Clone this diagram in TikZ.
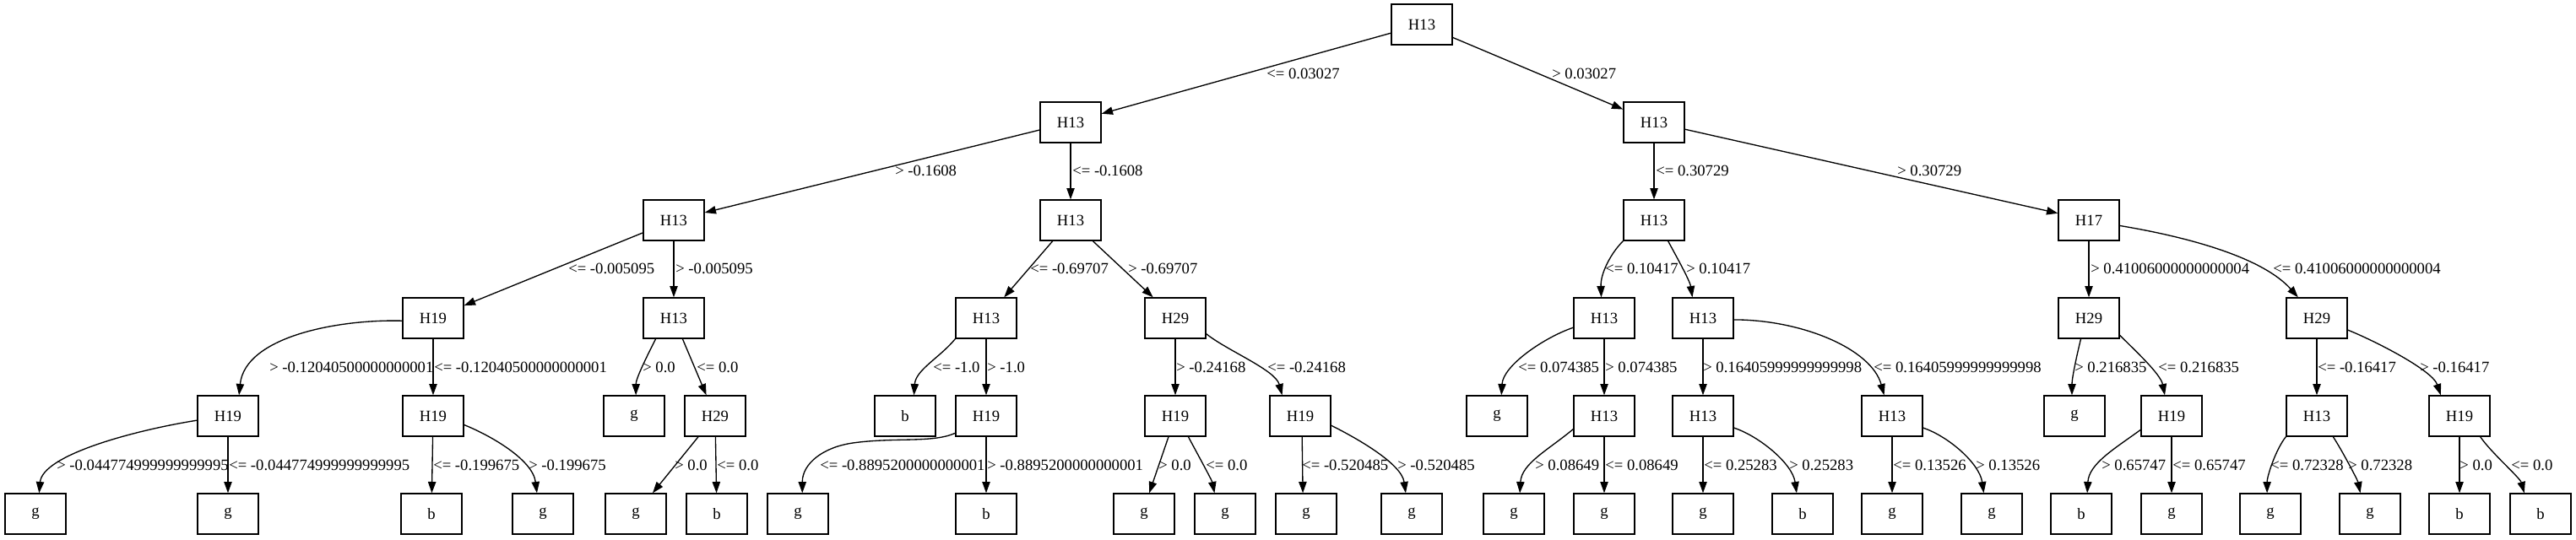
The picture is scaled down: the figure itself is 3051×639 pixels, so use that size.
\documentclass[tikz,border=0pt]{standalone}
\usepackage{fontspec}
\setmainfont{Liberation Serif}
\usetikzlibrary{arrows.meta}
\begin{document}
\begin{tikzpicture}[x=0.75pt,y=-0.75pt,
  box/.style={draw,line width=1pt,minimum width=54pt,minimum height=36pt,inner sep=0pt,font=\fontsize{14pt}{16pt}\selectfont},
  lbl/.style={anchor=west,inner sep=0pt,font=\fontsize{14pt}{16pt}\selectfont},
  conn/.style={line width=1pt,-{Triangle[length=10pt,width=7pt]}}]
\useasboundingbox[fill=white] (0,0) rectangle (3051,639);
% level 0-2
\node[box] (n0) at (1684,29) {H13};
\node[box] (n1) at (1268,145) {H13};
\node[box] (n2) at (1959,145) {H13};
\node[box] (n3) at (798,261) {H13};
\node[box] (n4) at (1268,261) {H13};
\node[box] (n5) at (1959,261) {H13};
\node[box] (n6) at (2474,261) {H17};
% level 3
\node[box] (n7) at (513,377) {H19};
\node[box] (n8) at (798,377) {H13};
\node[box] (n9) at (1168,377) {H13};
\node[box] (n10) at (1392,377) {H29};
\node[box] (n11) at (1900,377) {H13};
\node[box] (n12) at (2017,377) {H13};
\node[box] (n13) at (2474,377) {H29};
\node[box] (n14) at (2744,377) {H29};
% level 4
\node[box] (n15) at (270,493) {H19};
\node[box] (n16) at (513,493) {H19};
\node[box] (n17) at (751,493) {g};
\node[box] (n18) at (847,493) {H29};
\node[box] (n19) at (1072,493) {b};
\node[box] (n20) at (1168,493) {H19};
\node[box] (n21) at (1392,493) {H19};
\node[box] (n22) at (1540,493) {H19};
\node[box] (n23) at (1773,493) {g};
\node[box] (n24) at (1900,493) {H13};
\node[box] (n25) at (2017,493) {H13};
\node[box] (n26) at (2241,493) {H13};
\node[box] (n27) at (2457,493) {g};
\node[box] (n28) at (2572,493) {H19};
\node[box] (n29) at (2744,493) {H13};
\node[box] (n30) at (2913,493) {H19};
% level 5
\node[box] (n31) at (42,609) {g};
\node[box] (n32) at (270,609) {g};
\node[box] (n33) at (511,609) {b};
\node[box] (n34) at (643,609) {g};
\node[box] (n35) at (753,609) {g};
\node[box] (n36) at (849,609) {b};
\node[box] (n37) at (945,609) {g};
\node[box] (n38) at (1168,609) {b};
\node[box] (n39) at (1355,609) {g};
\node[box] (n40) at (1451,609) {g};
\node[box] (n41) at (1547,609) {g};
\node[box] (n42) at (1672,609) {g};
\node[box] (n43) at (1793,609) {g};
\node[box] (n44) at (1900,609) {g};
\node[box] (n45) at (2017,609) {g};
\node[box] (n46) at (2135,609) {b};
\node[box] (n47) at (2241,609) {g};
\node[box] (n48) at (2359,609) {g};
\node[box] (n49) at (2465,609) {b};
\node[box] (n50) at (2572,609) {g};
\node[box] (n51) at (2689,609) {g};
\node[box] (n52) at (2807,609) {g};
\node[box] (n53) at (2913,609) {b};
\node[box] (n54) at (3009,609) {b};
\coordinate (w1) at (1010,525);
% edges level 0-2
\draw[conn] (n0) -- (n1);
\draw[conn] (n0) -- (n2);
\draw[conn] (n1) -- (n3);
\draw[conn] (n1) -- (n4);
\draw[conn] (n2) -- (n5);
\draw[conn] (n2) -- (n6);
% level 2-3
\draw[conn] (n3) -- (n7);
\draw[conn] (n3) -- (n8);
\draw[conn] (n4) -- (n9);
\draw[conn] (n4) -- (n10);
\draw[conn] (n5.south west) .. controls +(-15,15) and +(-1,-28) .. (n11.98);
\draw[conn] (n5.304) .. controls +(8,15) and +(-3,-20) .. (n12.117);
\draw[conn] (n6) -- (n13);
\draw[conn] (n6.350) .. controls +(90,15) and +(-40,-45) .. (n14.132);
% level 3-4
\draw[conn] (n7.185) .. controls +(-77,-2) and +(7,-69) .. (n15.62);
\draw[conn] (n7) -- (n16);
\draw[conn] (n8.229) .. controls +(-10,20) and +(0,-20) .. (n17.85);
\draw[conn] (n8) -- (n18);
\draw[conn] (n9.south west) .. controls +(-18,22) and +(2,-30) .. (n19.67);
\draw[conn] (n9) -- (n20);
\draw[conn] (n10) -- (n21);
\draw[conn] (n10.333) .. controls +(25,20) and +(-8,-30) .. (n22.131);
\draw[conn] (n11.197) .. controls +(-35,12) and +(2,-35) .. (n23.78);
\draw[conn] (n11) -- (n24);
\draw[conn] (n12) -- (n25);
\draw[conn] (n12.357) .. controls +(80,0) and +(-15,-55) .. (n26.111);
\draw[conn] (n13.249) .. controls +(-5,20) and +(0,-20) .. (n27.97);
\draw[conn] (n13.331) .. controls +(18,18) and +(-5,-25) .. (n28.108);
\draw[conn] (n14) -- (n29);
\draw[conn] (n14.339) .. controls +(30,12) and +(-10,-30) .. (n30.132);
% level 4-5
\draw[conn] (n15.188) .. controls +(-75,12) and +(4,-45) .. (n31.80);
\draw[conn] (n15) -- (n32);
\draw[conn] (n16) -- (n33);
\draw[conn] (n16.344) .. controls +(30,12) and +(-5,-40) .. (n34.106);
\draw[conn] (n18) -- (n35);
\draw[conn] (n18) -- (n36);
\draw[conn] (n20.209) .. controls +(-27,12) and +(50,-7) .. (w1) .. controls +(-35,5) and +(0,-35) .. (n37.78);
\draw[conn] (n20) -- (n38);
\draw[conn] (n21.252) -- (n39.76);
\draw[conn] (n21.302) .. controls +(8,15) and +(-3,-15) .. (n40.117);
\draw[conn] (n22.275) -- (n41.99);
\draw[conn] (n22.343) .. controls +(30,15) and +(-5,-35) .. (n42.106);
\draw[conn] (n24.203) .. controls +(-30,25) and +(2,-35) .. (n43.74);
\draw[conn] (n24) -- (n44);
\draw[conn] (n25) -- (n45);
\draw[conn] (n25.339) .. controls +(30,10) and +(-5,-35) .. (n46.106);
\draw[conn] (n26) -- (n47);
\draw[conn] (n26.339) .. controls +(30,10) and +(-5,-35) .. (n48.111);
\draw[conn] (n28.204) .. controls +(-30,22) and +(2,-35) .. (n49.74);
\draw[conn] (n28) -- (n50);
\draw[conn] (n29.south west) .. controls +(-12,15) and +(0,-20) .. (n51.99);
\draw[conn] (n29.308) .. controls +(10,15) and +(-3,-15) .. (n52.115);
\draw[conn] (n30) -- (n53);
\draw[conn] (n30.315) .. controls +(12,18) and +(-5,-18) .. (n54.128);
% labels
\node[lbl] (l1) at (1500,87) {<= 0.03027};
\node[lbl] (l2) at (1838,87) {> 0.03027};
\node[lbl] (l3) at (1060,202) {> -0.1608};
\node[lbl] (l4) at (1270,202) {<= -0.1608};
\node[lbl] (l5) at (1961,202) {<= 0.30729};
\node[lbl] (l6) at (2247,202) {> 0.30729};
\node[lbl] (l7) at (673,318) {<= -0.005095};
\node[lbl] (l8) at (800,318) {> -0.005095};
\node[lbl] (l9) at (1220,318) {<= -0.69707};
\node[lbl] (l10) at (1336,318) {> -0.69707};
\node[lbl] (l11) at (1901,318) {<= 0.10417};
\node[lbl] (l12) at (1997,318) {> 0.10417};
\node[lbl] (l13) at (2476,318) {> 0.41006000000000004};
\node[lbl] (l14) at (2692,318) {<= 0.41006000000000004};
\node[lbl] (l15) at (319,435) {> -0.12040500000000001};
\node[lbl] (l16) at (514,435) {<= -0.12040500000000001};
\node[lbl] (l17) at (761,435) {> 0.0};
\node[lbl] (l18) at (825,435) {<= 0.0};
\node[lbl] (l19) at (1105,435) {<= -1.0};
\node[lbl] (l20) at (1169,435) {> -1.0};
\node[lbl] (l21) at (1393,435) {> -0.24168};
\node[lbl] (l22) at (1501,435) {<= -0.24168};
\node[lbl] (l23) at (1798,435) {<= 0.074385};
\node[lbl] (l24) at (1901,435) {> 0.074385};
\node[lbl] (l25) at (2017,435) {> 0.16405999999999998};
\node[lbl] (l26) at (2219,435) {<= 0.16405999999999998};
\node[lbl] (l27) at (2457,435) {> 0.216835};
\node[lbl] (l28) at (2556,435) {<= 0.216835};
\node[lbl] (l29) at (2745,435) {<= -0.16417};
\node[lbl] (l30) at (2866,435) {> -0.16417};
\node[lbl] (l31) at (67,551) {> -0.044774999999999995};
\node[lbl] (l32) at (271,551) {<= -0.044774999999999995};
\node[lbl] (l33) at (513,551) {<= -0.199675};
\node[lbl] (l34) at (626,551) {> -0.199675};
\node[lbl] (l35) at (799,551) {> 0.0};
\node[lbl] (l36) at (849,551) {<= 0.0};
\node[lbl] (l37) at (971,551) {<= -0.8895200000000001};
\node[lbl] (l38) at (1169,551) {> -0.8895200000000001};
\node[lbl] (l39) at (1372,551) {> 0.0};
\node[lbl] (l40) at (1428,551) {<= 0.0};
\node[lbl] (l41) at (1542,551) {<= -0.520485};
\node[lbl] (l42) at (1655,551) {> -0.520485};
\node[lbl] (l43) at (1818,551) {> 0.08649};
\node[lbl] (l44) at (1901,551) {<= 0.08649};
\node[lbl] (l45) at (2018,551) {<= 0.25283};
\node[lbl] (l46) at (2119,551) {> 0.25283};
\node[lbl] (l47) at (2242,551) {<= 0.13526};
\node[lbl] (l48) at (2340,551) {> 0.13526};
\node[lbl] (l49) at (2489,551) {> 0.65747};
\node[lbl] (l50) at (2573,551) {<= 0.65747};
\node[lbl] (l51) at (2689,551) {<= 0.72328};
\node[lbl] (l52) at (2781,551) {> 0.72328};
\node[lbl] (l53) at (2913,551) {> 0.0};
\node[lbl] (l54) at (2974,551) {<= 0.0};
\end{tikzpicture}
\end{document}
